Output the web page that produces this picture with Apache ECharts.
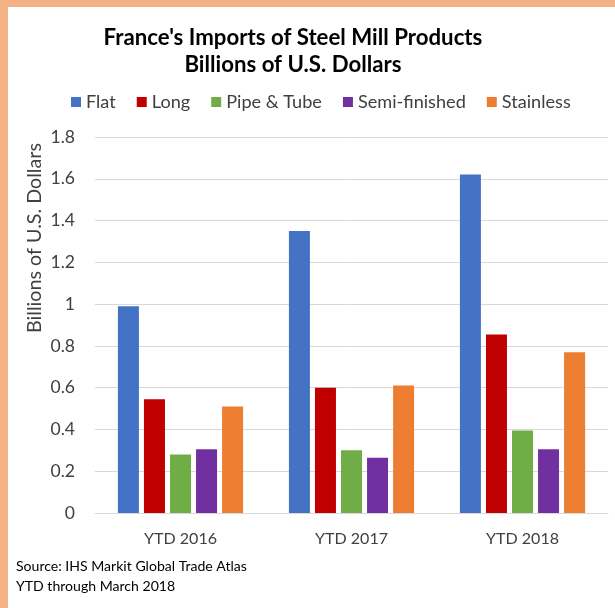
<!DOCTYPE html>
<html>
<head>
<meta charset="utf-8">
<script src="https://cdn.jsdelivr.net/npm/echarts@6/dist/echarts.min.js"></script>
<style>
html,body{margin:0;padding:0;background:#fff;}
#chart{width:615px;height:608px;}
</style>
</head>
<body>
<div id="chart"></div>
<script>
const categories = ['YTD 2016', 'YTD 2017', 'YTD 2018'];
const seriesNames = ['Flat', 'Long', 'Pipe & Tube', 'Semi-finished', 'Stainless'];
const flatValues = [0.99, 1.35, 1.62];
const longValues = [0.545, 0.60, 0.855];
const pipeValues = [0.28, 0.30, 0.395];
const semiValues = [0.305, 0.265, 0.305];
const stainlessValues = [0.51, 0.61, 0.77];
const yTickLabels = ['0', '0.2', '0.4', '0.6', '0.8', '1', '1.2', '1.4', '1.6', '1.8'];
const titleLines = ["France's Imports of Steel Mill Products", 'Billions of U.S. Dollars'];
const yAxisTitle = 'Billions of U.S. Dollars';
const sourceLines = ['Source: IHS Markit Global Trade Atlas', 'YTD through March 2018'];

const colors = ['#4472C4', '#C00000', '#70AD47', '#7030A0', '#ED7D31'];
const FONT = 'Lato';
const ctx = document.createElement('canvas').getContext('2d');
function fit(text, weight, target) {
  ctx.font = weight + ' 100px ' + FONT;
  return 100 * target / ctx.measureText(text).width;
}
const titleSize = fit(titleLines[0], 'bold', 379);
const legendSize = fit('Semi-finished', 'normal', 108);
const catSize = fit('YTD 2016', 'normal', 73);
const ySize = fit('0.8', 'normal', 24.5);
const nameSize = fit(yAxisTitle, 'normal', 190);
const srcSize = fit(sourceLines[0], 'normal', 231);

const allValues = [flatValues, longValues, pipeValues, semiValues, stainlessValues];
const chart = echarts.init(document.getElementById('chart'), null, {renderer: 'canvas'});
const textColor = '#404040';

chart.setOption({
  animation: false,
  color: colors,
  textStyle: {fontFamily: FONT},
  legend: {
    data: seriesNames,
    left: 71,
    top: 92,
    padding: 0,
    icon: 'rect',
    itemWidth: 10,
    itemHeight: 10,
    itemGap: 21,
    textStyle: {fontSize: legendSize, color: textColor, lineHeight: 20, fontFamily: FONT}
  },
  grid: {left: 95, right: 7, top: 137, bottom: 95, containLabel: false},
  xAxis: {
    type: 'category',
    data: categories,
    axisLine: {lineStyle: {color: '#D9D9D9', width: 1}},
    axisTick: {show: false},
    axisLabel: {fontSize: catSize, color: textColor, margin: 18, fontFamily: FONT}
  },
  yAxis: {
    type: 'value',
    min: 0,
    max: 1.8,
    interval: 0.2,
    axisLine: {show: false},
    axisTick: {show: false},
    splitLine: {lineStyle: {color: '#D9D9D9', width: 1}},
    axisLabel: {
      fontSize: ySize, color: textColor, margin: 20, fontFamily: FONT,
      formatter: function (v) { return yTickLabels[Math.round(v / 0.2)]; }
    }
  },
  series: seriesNames.map(function (name, i) {
    return {
      name: name,
      type: 'bar',
      data: allValues[i],
      barWidth: 21,
      barGap: '24%',
      itemStyle: {color: colors[i]}
    };
  }),
  graphic: [
    {type: 'rect', left: 0, top: 0, shape: {width: 8, height: 608}, style: {fill: '#F4B183'}, z: 100},
    {type: 'rect', left: 0, top: 0, shape: {width: 615, height: 7}, style: {fill: '#F4B183'}, z: 100},
    {type: 'text', x: 293, y: 37.5, style: {text: titleLines[0], font: 'bold ' + titleSize + 'px ' + FONT, fill: '#000', align: 'center', verticalAlign: 'middle'}},
    {type: 'text', x: 293, y: 65, style: {text: titleLines[1], font: 'bold ' + titleSize + 'px ' + FONT, fill: '#000', align: 'center', verticalAlign: 'middle'}},
    {type: 'text', x: 35, y: 238, rotation: Math.PI / 2, style: {text: yAxisTitle, font: nameSize + 'px ' + FONT, fill: textColor, align: 'center', verticalAlign: 'middle'}},
    {type: 'text', x: 16, y: 566, style: {text: sourceLines[0], font: srcSize + 'px ' + FONT, fill: '#000', align: 'left', verticalAlign: 'middle'}},
    {type: 'text', x: 16, y: 586, style: {text: sourceLines[1], font: srcSize + 'px ' + FONT, fill: '#000', align: 'left', verticalAlign: 'middle'}}
  ]
});
</script>
</body>
</html>
